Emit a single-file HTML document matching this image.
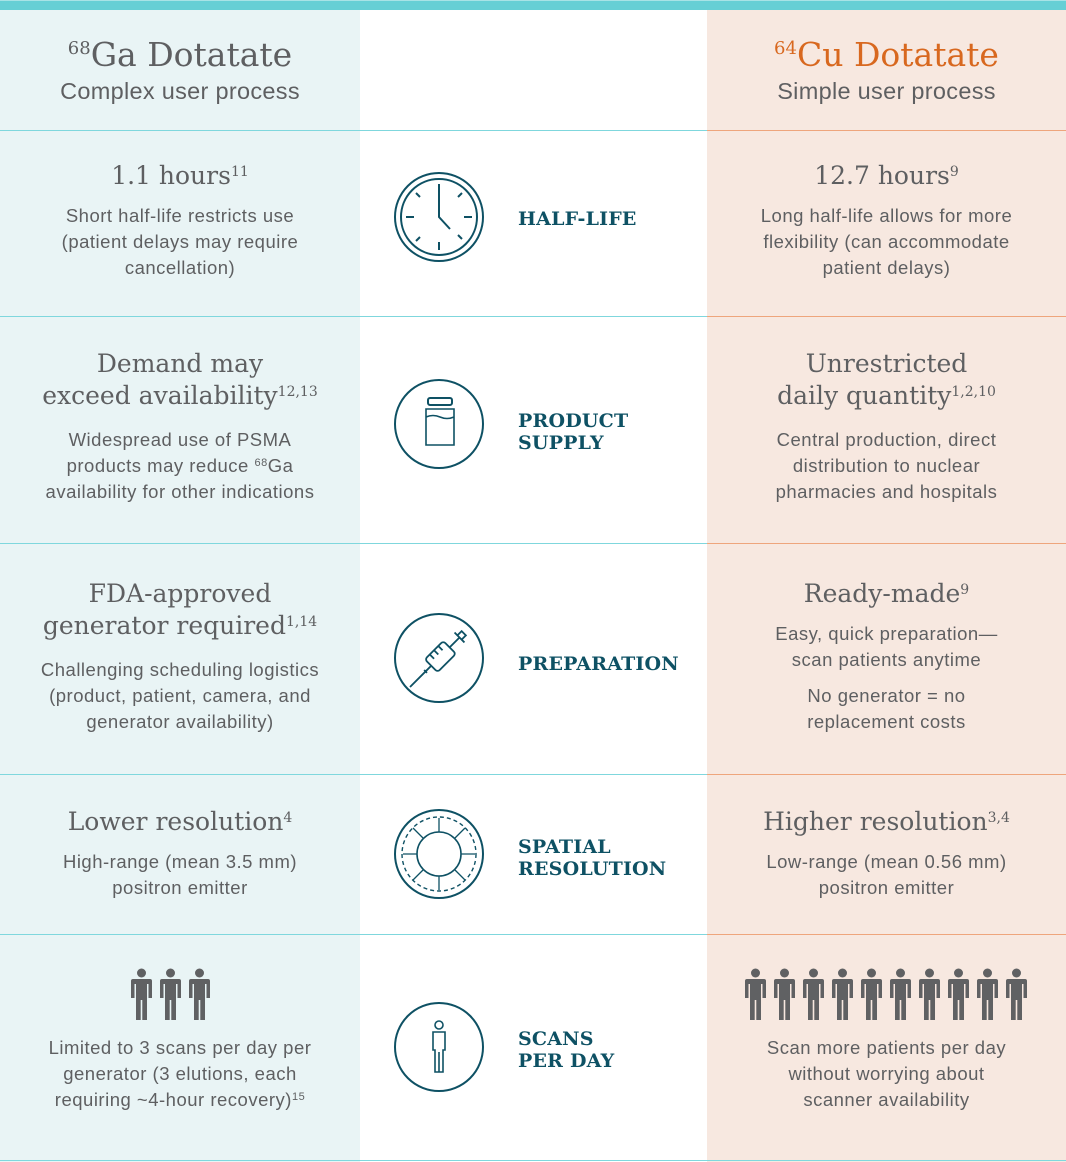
<!DOCTYPE html>
<html><head><meta charset="utf-8"><style>
*{margin:0;padding:0;box-sizing:border-box}
body{width:1066px;height:1162px;position:relative;background:#fff;overflow:hidden;font-family:"Liberation Sans",sans-serif;color:#5e5f61}
.abs{position:absolute}
.c{position:absolute;text-align:center;white-space:nowrap}
.L{left:0;width:360px}
.R{left:707px;width:359px}
.h{font-family:"DejaVu Serif","Liberation Serif",serif;font-size:25px;line-height:32px;letter-spacing:0}
.h sup{font-size:14px;vertical-align:top;position:relative;top:-4px;letter-spacing:0}
.b{font-size:18.5px;line-height:26px;letter-spacing:0.5px}
.b sup{font-size:11px;vertical-align:top;position:relative;top:-3px}
.lab{position:absolute;left:518px;font-family:"DejaVu Serif","Liberation Serif",serif;font-size:19px;line-height:22px;color:#0e5164;font-weight:bold;letter-spacing:0.2px}
.lineT{position:absolute;left:0;width:707px;height:1px;background:#7fd7dd}
.lineO{position:absolute;left:707px;width:359px;height:1px;background:#eea57c}
</style></head><body>
<div class="abs" style="left:0;top:0;width:360px;height:1162px;background:#e9f4f5"></div>
<div class="abs" style="left:707px;top:0;width:359px;height:1162px;background:#f7e8e0"></div>
<div class="abs" style="left:0;top:0;width:1066px;height:10px;background:#66cfd5"></div>
<div class="abs" style="left:0;top:0;width:1066px;height:1px;background:#a8e3e6"></div>

<div class="lineT" style="top:130px"></div><div class="lineO" style="top:130px"></div>
<div class="lineT" style="top:316px"></div><div class="lineO" style="top:316px"></div>
<div class="lineT" style="top:543px"></div><div class="lineO" style="top:543px"></div>
<div class="lineT" style="top:774px"></div><div class="lineO" style="top:774px"></div>
<div class="lineT" style="top:934px"></div><div class="lineO" style="top:934px"></div>
<div class="lineT" style="top:1160px"></div><div class="lineO" style="top:1160px;background:#7fd7dd"></div>

<!-- headers -->
<div class="c L h" style="top:35px;font-size:33px;line-height:40px"><sup style="font-size:18px;top:-6px">68</sup>Ga Dotatate</div>
<div class="c L" style="top:77px;font-size:23.5px;line-height:28px;letter-spacing:0.3px">Complex user process</div>
<div class="c R h" style="top:35px;font-size:33px;line-height:40px;color:#d8681f"><sup style="font-size:18px;top:-6px">64</sup>Cu Dotatate</div>
<div class="c R" style="top:77px;font-size:23.5px;line-height:28px;letter-spacing:0.3px">Simple user process</div>

<!-- row1 -->
<div class="c L h" style="top:160px">1.1 hours<sup>11</sup></div>
<div class="c L b" style="top:203px">Short half-life restricts use<br>(patient delays may require<br>cancellation)</div>
<div class="c R h" style="top:160px">12.7 hours<sup>9</sup></div>
<div class="c R b" style="top:203px">Long half-life allows for more<br>flexibility (can accommodate<br>patient delays)</div>
<div class="lab" style="top:208px">HALF-LIFE</div>

<!-- row2 -->
<div class="c L h" style="top:348px">Demand may<br>exceed availability<sup>12,13</sup></div>
<div class="c L b" style="top:427px">Widespread use of PSMA<br>products may reduce <sup>68</sup>Ga<br>availability for other indications</div>
<div class="c R h" style="top:348px">Unrestricted<br>daily quantity<sup>1,2,10</sup></div>
<div class="c R b" style="top:427px">Central production, direct<br>distribution to nuclear<br>pharmacies and hospitals</div>
<div class="lab" style="top:410px">PRODUCT<br>SUPPLY</div>

<!-- row3 -->
<div class="c L h" style="top:578px">FDA-approved<br>generator required<sup>1,14</sup></div>
<div class="c L b" style="top:657px">Challenging scheduling logistics<br>(product, patient, camera, and<br>generator availability)</div>
<div class="c R h" style="top:578px">Ready-made<sup>9</sup></div>
<div class="c R b" style="top:621px">Easy, quick preparation—<br>scan patients anytime</div>
<div class="c R b" style="top:683px">No generator = no<br>replacement costs</div>
<div class="lab" style="top:653px">PREPARATION</div>

<!-- row4 -->
<div class="c L h" style="top:806px">Lower resolution<sup>4</sup></div>
<div class="c L b" style="top:849px">High-range (mean 3.5 mm)<br>positron emitter</div>
<div class="c R h" style="top:806px">Higher resolution<sup>3,4</sup></div>
<div class="c R b" style="top:849px">Low-range (mean 0.56 mm)<br>positron emitter</div>
<div class="lab" style="top:836px">SPATIAL<br>RESOLUTION</div>

<!-- row5 -->
<div class="c L b" style="top:1035px">Limited to 3 scans per day per<br>generator (3 elutions, each<br>requiring ~4-hour recovery)<sup>15</sup></div>
<div class="c R b" style="top:1035px">Scan more patients per day<br>without worrying about<br>scanner availability</div>
<div class="lab" style="top:1028px">SCANS<br>PER DAY</div>

<svg class="abs" style="left:0;top:0" width="1066" height="1162">
<defs>
<g id="p"><circle cx="10.5" cy="5" r="4.5" fill="#606163"/><path d="M2 11 H19 Q21 11 21 13 V30 H17.5 V16 H16 V52 H11.3 V32 H9.7 V52 H5 V16 H3.5 V30 H0 V13 Q0 11 2 11Z" fill="#606163"/></g>
</defs>
<use href="#p" x="131" y="968"/><use href="#p" x="160" y="968"/><use href="#p" x="189" y="968"/>
<use href="#p" x="745" y="968"/><use href="#p" x="774" y="968"/><use href="#p" x="803" y="968"/><use href="#p" x="832" y="968"/><use href="#p" x="861" y="968"/><use href="#p" x="890" y="968"/><use href="#p" x="919" y="968"/><use href="#p" x="948" y="968"/><use href="#p" x="977" y="968"/><use href="#p" x="1006" y="968"/>
<g fill="none" stroke="#0e5164" stroke-width="2">
<!-- clock -->
<circle cx="439" cy="217" r="44"/><circle cx="439" cy="217" r="38"/>
<path d="M439 184v8M439 242v8M406 217h8M464 217h8M416 193l4 4M458 235l4 4M462 193l-4 4M420 237l-4 4"/>
<path d="M439 190V217L450 229"/>
<!-- vial -->
<circle cx="439" cy="424" r="44"/>
<rect x="428" y="398" width="24" height="7" rx="2"/>
<path d="M426 409h28v36h-28z M426 417q7 -3 14 0t14 0" stroke-width="1.6"/>
<!-- syringe -->
<circle cx="439" cy="658" r="44"/>
<g transform="rotate(45 439 658)" stroke-width="1.8">
<rect x="430" y="643" width="18" height="26" rx="3"/>
<path d="M439 669v8M437 677h4M439 677v22M439 643v-14M432 629h14M436 629v-6h6v6M430 650h6M430 656h6M430 662h6"/>
</g>
<!-- spatial -->
<circle cx="439" cy="854" r="44"/>
<circle cx="439" cy="854" r="37" stroke-dasharray="4 3" stroke-width="1.4"/>
<circle cx="439" cy="854" r="22" stroke-width="1.6"/>
<path stroke-width="1.3" d="M439 832v-14M439 876v14M417 854h-14M461 854h14M423 838l-10-10M455 838l10-10M423 870l-10 10M455 870l10 10"/>
<!-- person -->
<circle cx="439" cy="1047" r="44"/>
<circle cx="439" cy="1025" r="4" stroke-width="1.6"/>
<path stroke-width="1.6" d="M433 1032h12v18h-2v22h-8v-22h-2zM439 1052v20"/>
</g>
</svg>
</body></html>
